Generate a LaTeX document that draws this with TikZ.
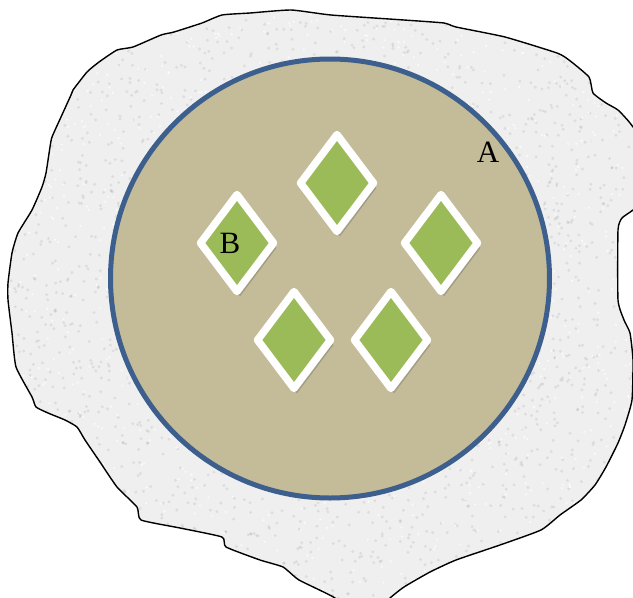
\documentclass[tikz,border=0pt]{standalone}
\usepackage{fontspec}
\setmainfont{Liberation Serif}
\usepackage{tikz}
\usetikzlibrary{shapes.geometric,shadows,positioning}
\usepackage{xcolor}

\definecolor{stoneGray}{HTML}{EFEFEF}
\definecolor{cellTan}{HTML}{C4BC98}
\definecolor{cellBlue}{HTML}{3D5F8E}
\definecolor{leafGreen}{HTML}{9BBB59}

\newcommand{\stoneoutline}{plot[smooth cycle, tension=0.3] coordinates {
    (8,283) (12,253) (18,233) (32,210) (42,187) (46,173) (50,147) (52,137)
    (61,117) (71,95) (73,90) (87,72) (99,62) (117,50) (133,47) (161,35)
    (174,32) (202,23) (222,15) (250,13) (291,10) (331,15) (404,20) (444,23)
    (456,27) (505,37) (557,53) (569,60) (589,77) (593,93) (606,103) (618,110)
    (630,123) (648,150) (648,195) (633,210) (622,218) (618,230) (618,300)
    (624,320) (630,333) (633,360) (632,400) (625,425) (618,443) (606,467)
    (595,485) (581,500) (560,515) (541,530) (500,545) (456,560) (430,572)
    (404,587) (388,600) (385,612) (340,612) (335,598) (299,580) (283,567)
    (260,560) (226,547) (222,537) (180,528) (141,520) (137,507) (117,487)
    (100,462) (85,440) (77,427) (65,420) (48,413) (36,407) (32,397) (16,367)
    (12,333) (8,300)}}

\begin{document}
\begin{tikzpicture}[
    x=1pt, y=-1pt,
    cell/.style={draw=cellBlue, line width=5pt, circle, fill=cellTan,
        minimum size=439pt, inner sep=0pt},
    leaf/.style={draw=white, line width=7.5pt, diamond, fill=leafGreen,
        minimum width=76pt, minimum height=100pt, inner sep=0pt,
        line join=round,
        drop shadow={shadow xshift=3pt, shadow yshift=-5pt,
            fill=black!60, opacity=0.35}},
    lbl/.style={font=\fontsize{31}{36}\selectfont, inner sep=0pt},
]
\useasboundingbox (0,0) rectangle (633,598);
\clip (0,0) rectangle (633,598);

% stone with speckled surface
\begin{scope}
    \clip \stoneoutline;
    \fill[stoneGray] (0,0) rectangle (633,598);
    \pgfmathsetseed{11}
    \foreach \k in {1,...,2600} {
        \fill[gray, opacity=0.16] (rnd*633, rnd*598) circle (1.6);
    }
    \foreach \k in {1,...,1200} {
        \fill[white, opacity=0.7] (rnd*633, rnd*598) circle (1.2);
    }
\end{scope}
\draw[line width=1.4pt, line join=round] \stoneoutline;

\node[cell] (cellA) at (330,278.5) {};

\node[leaf] (leafTop) at (337,183) {};
\node[leaf] (leafB) at (237,243) {};
\node[leaf] (leafRight) at (441,243) {};
\node[leaf] (leafLowL) at (294,340) {};
\node[leaf] (leafLowR) at (391,340) {};

\node[lbl] (labA) at (488,152) {A};
\node[lbl] (labB) at (230,243) {B};

\end{tikzpicture}
\end{document}
